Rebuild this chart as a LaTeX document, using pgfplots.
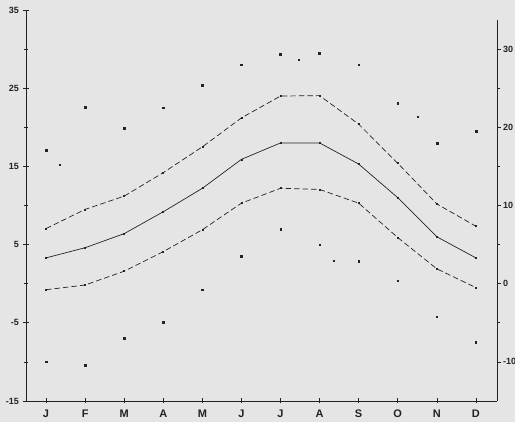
\documentclass[border=0pt]{standalone}
\usepackage{pgfplots}
\pgfplotsset{compat=1.18}
\usepackage{pgfplotstable}
\usepackage{fontspec}
\setmainfont{Liberation Sans}
\usetikzlibrary{backgrounds}
\definecolor{bg}{RGB}{229,229,229}
\definecolor{ink}{RGB}{35,35,35}

% monthly mean, upper and lower curves
\pgfplotstableread{
m mean hi lo
1 3.3 7.05 -0.77
2 4.6 9.5 -0.17
3 6.4 11.2 1.6
4 9.2 14.2 4.1
5 12.2 17.5 6.9
6 15.9 21.2 10.3
7 18.0 24.0 12.2
8 18.0 24.05 12.05
9 15.3 20.4 10.3
10 11.0 15.4 5.9
11 6.0 10.2 1.9
12 3.3 7.35 -0.5
}\normals

% extreme points
\pgfplotstableread{
m max min
1 17.05 -10.0
2 22.6 -10.4
3 19.9 -7.0
4 22.5 -4.96
5 25.4 -0.77
6 28.0 3.5
7 29.3 7.0
8 29.5 5.0
9 28.0 2.9
10 23.1 0.4
11 18.0 -4.2
12 19.5 -7.5
}\extremes

\pgfplotstableread{
x y
1.36 15.2
7.46 28.7
10.51 21.3
8.35 2.9
}\stray

\begin{document}
\begin{tikzpicture}[show background rectangle, inner frame sep=0pt,
  background rectangle/.style={fill=bg, draw=none}]
\useasboundingbox (-26pt,-21pt) rectangle (489pt,401pt);
\pgfplotsset{base/.style={
  scale only axis, width=471pt, height=391pt,
  xmin=0.487, xmax=12.54, ymin=-15, ymax=35, clip=false,
  axis line style={ink, line width=0.7pt},
  tick style={ink, line width=0.6pt},
  major tick length=5pt, minor tick length=4pt,
  ticklabel style={font=\bfseries\fontsize{9}{10}\selectfont, text=ink},
  /pgf/number format/assume math mode=true,
}}
\begin{axis}[base, name=ax, at={(0,0)}, anchor=south west,
  axis x line*=bottom, axis y line*=left,
  tick align=center,
  xtick={1,...,12},
  xticklabels={J,F,M,A,M,J,J,A,S,O,N,D},
  x tick label style={font=\bfseries\fontsize{11}{12}\selectfont, yshift=-3pt},
  ytick={-15,-5,5,15,25,35},
  minor ytick={-10,0,10,20,30},
  yticklabel style={xshift=-1pt},
]
\addplot[ink, line width=0.7pt, mark=square*, mark size=0.5pt] table[x=m,y=mean]{\normals};
\addplot[ink, line width=0.7pt, dash pattern=on 5.5pt off 3pt, mark=square*, mark size=0.5pt, mark options={solid}] table[x=m,y=hi]{\normals};
\addplot[ink, line width=0.7pt, dash pattern=on 5.5pt off 3pt, mark=square*, mark size=0.5pt, mark options={solid}] table[x=m,y=lo]{\normals};
\addplot[only marks, ink, mark=square*, mark size=0.95pt] table[x=m,y=max]{\extremes};
\addplot[only marks, ink, mark=square*, mark size=0.8pt] table[x=m,y=min]{\extremes};
\addplot[only marks, ink, mark=square*, mark size=0.55pt] table[x=x,y=y]{\stray};
\end{axis}
\begin{axis}[base, at={(0,0)}, anchor=south west,
  axis x line=none, axis y line*=right,
  ymax=33.7,
  height=380.8pt,
  tick align=outside,
  major tick length=4pt, minor tick length=3pt,
  ytick={-10,0,10,20,30},
  minor ytick={-5,5,15,25},
  yticklabel style={xshift=-1.5pt},
]
\end{axis}
\end{tikzpicture}
\end{document}
